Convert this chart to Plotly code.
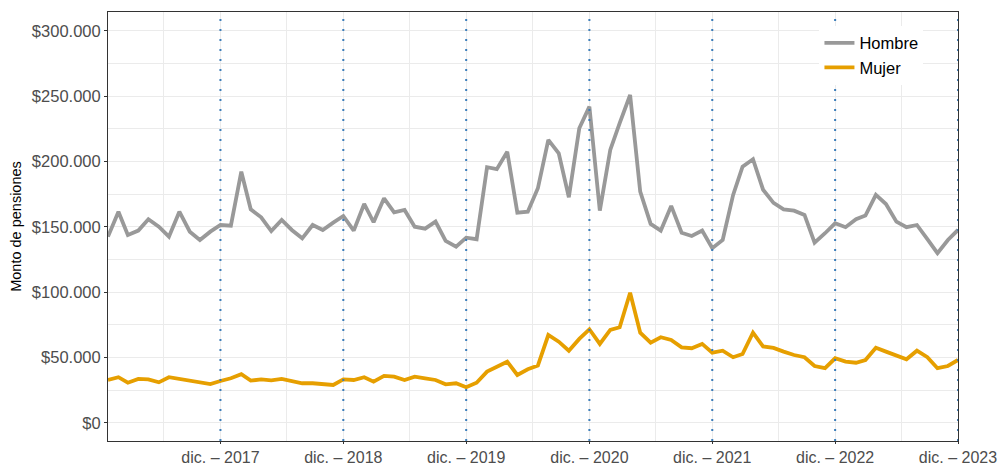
import plotly.graph_objects as go
import pandas as pd

# Monthly dates Jan 2017 - Dec 2023
dates = pd.date_range("2017-01-01", "2023-12-01", freq="MS")

hombre = [
    # 2017
    142.6, 161.7, 143.9, 147.2, 155.9, 150.2, 142.6, 161.7, 146.4, 140.0, 146.4, 151.5,
    # 2018
    151.0, 192.3, 163.5, 157.4, 146.9, 155.4, 147.7, 141.3, 151.5, 147.7, 153.3, 158.4,
    # 2019
    147.2, 167.6, 153.6, 171.9, 161.2, 163.0, 150.2, 148.7, 154.1, 139.3, 134.9, 141.8,
    # 2020
    140.6, 195.7, 194.2, 207.6, 161.0, 161.7, 179.6, 216.6, 206.4, 172.7, 225.5, 242.1,
    # 2021
    162.5, 208.9, 229.4, 251.0, 177.0, 152.3, 147.2, 166.1, 145.6, 143.1, 147.2, 133.7,
    # 2022
    140.0, 174.5, 196.2, 201.8, 178.5, 168.4, 163.5, 162.5, 159.2, 138.0, 145.2, 152.8,
    # 2023
    149.8, 155.9, 158.7, 174.5, 167.6, 154.1, 149.8, 151.5, 140.6, 129.9, 140.0, 147.7,
]
mujer = [
    # 2017
    32.9, 35.0, 30.8, 33.7, 33.4, 31.1, 35.0, 33.7, 32.1, 30.8, 29.8, 32.1,
    # 2018
    34.2, 37.3, 32.4, 33.4, 32.6, 33.7, 32.1, 30.4, 30.4, 29.8, 29.1, 33.4,
    # 2019
    32.9, 35.0, 31.6, 36.0, 35.5, 32.9, 35.5, 34.2, 32.9, 29.6, 30.4, 27.3,
    # 2020
    30.8, 39.3, 43.1, 46.9, 36.7, 41.1, 43.9, 67.3, 62.2, 55.3, 64.3, 71.7,
    # 2021
    60.5, 71.2, 73.2, 99.7, 69.1, 61.5, 65.6, 63.5, 57.9, 57.2, 60.5, 53.8,
    # 2022
    55.3, 50.3, 52.8, 69.1, 58.6, 57.4, 54.6, 52.0, 50.3, 43.6, 41.9, 49.5,
    # 2023
    46.9, 46.1, 48.2, 57.6, 54.6, 51.3, 48.7, 55.3, 50.3, 41.9, 43.6, 48.2,
]
hombre = [v * 1000 for v in hombre]
mujer = [v * 1000 for v in mujer]

x_tick_dates = ["2017-12-01", "2018-12-01", "2019-12-01", "2020-12-01",
                "2021-12-01", "2022-12-01", "2023-12-01"]
x_tick_labels = ["dic. – 2017", "dic. – 2018", "dic. – 2019", "dic. – 2020",
                 "dic. – 2021", "dic. – 2022", "dic. – 2023"]
x_minor_dates = ["2017-06-16", "2018-06-16", "2019-06-16", "2020-06-16",
                 "2021-06-16", "2022-06-16", "2023-06-16"]

y_tick_vals = [0, 50000, 100000, 150000, 200000, 250000, 300000]
y_tick_labels = ["$0", "$50.000", "$100.000", "$150.000", "$200.000", "$250.000", "$300.000"]
y_minor_vals = [25000, 75000, 125000, 175000, 225000, 275000]

FONT = "Liberation Sans, Arial, sans-serif"

fig = go.Figure()
fig.add_trace(go.Scatter(x=dates, y=hombre, mode="lines", name="Hombre",
                         line=dict(color="#999999", width=3.8)))
fig.add_trace(go.Scatter(x=dates, y=mujer, mode="lines", name="Mujer",
                         line=dict(color="#E69F00", width=3.8)))

for d in x_tick_dates:
    fig.add_shape(type="line", xref="x", yref="paper", x0=d, x1=d, y0=0, y1=1,
                  line=dict(color="#3B7DBA", width=2, dash="2px,8px"), layer="above")

fig.update_layout(
    width=1000, height=466,
    margin=dict(l=108, r=42, t=12, b=25),
    paper_bgcolor="white", plot_bgcolor="white",
    font=dict(family=FONT, size=16, color="#4D4D4D"),
    showlegend=True,
    legend=dict(x=0.837, y=0.968, xanchor="left", yanchor="top",
                bgcolor="white", font=dict(size=16.5, color="black"),
                itemwidth=30, tracegroupgap=0),
    xaxis=dict(
        type="date", automargin=False,
        range=["2017-01-01", "2023-12-01"],
        tickmode="array", tickvals=x_tick_dates, ticktext=x_tick_labels,
        tickfont=dict(size=16, color="#4D4D4D"),
        showgrid=True, gridcolor="#EBEBEB", gridwidth=1,
        minor=dict(tickmode="array", tickvals=x_minor_dates, showgrid=True,
                   gridcolor="#EBEBEB", gridwidth=1, ticks=""),
        showline=True, linecolor="#333333", linewidth=1, mirror=True,
        ticks="outside", ticklen=2, tickcolor="#333333",
        zeroline=False,
    ),
    yaxis=dict(
        automargin=False,
        range=[-13800, 314500],
        tickmode="array", tickvals=y_tick_vals, ticktext=y_tick_labels,
        tickfont=dict(size=16.5, color="#4D4D4D"),
        showgrid=True, gridcolor="#EBEBEB", gridwidth=1,
        minor=dict(tickmode="array", tickvals=y_minor_vals, showgrid=True,
                   gridcolor="#EBEBEB", gridwidth=1, ticks=""),
        showline=True, linecolor="#333333", linewidth=1, mirror=True,
        ticks="outside", ticklen=3, tickcolor="#333333",
        zeroline=False,
        title=dict(text="Monto de pensiones", font=dict(size=14.5, color="black"),
                   standoff=6),
    ),
)

fig.write_html(
    "out.html",
    config={"displayModeBar": False},
    post_script="document.body.style.margin='0';document.body.style.padding='0';"
                "document.body.style.overflow='hidden';",
)
